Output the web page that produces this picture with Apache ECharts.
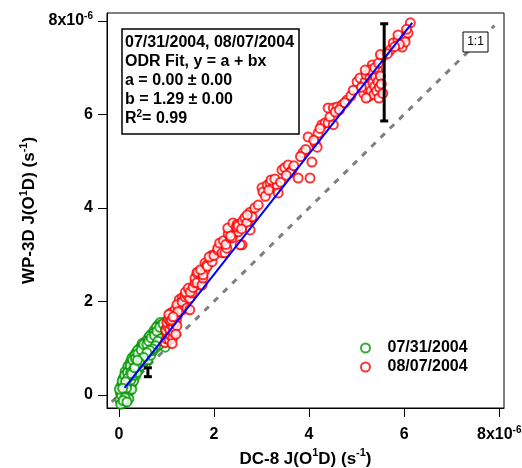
<!DOCTYPE html>
<html><head><meta charset="utf-8">
<script src="https://cdn.jsdelivr.net/npm/echarts@6/dist/echarts.min.js"></script>
<style>html,body{margin:0;padding:0;background:#fff}#c{width:522px;height:468px}</style>
</head><body><div id="c"></div>
<script>
// values in units of 1e-6 s^-1
const tickValues = [0, 2, 4, 6, 8];
const green0731 = [
[0.05,-0.15],[0.08,-0.05],[0.10,0.02],[0.12,-0.10],[0.15,0.05],[0.06,0.10],[0.10,0.15],[0.14,0.20],[0.18,0.12],[0.20,0.25],
[0.08,0.22],[0.12,0.30],[0.16,0.35],[0.22,0.30],[0.25,0.20],[0.20,0.40],[0.15,0.45],[0.24,0.45],[0.28,0.38],[0.30,0.50],
[0.18,0.55],[0.22,0.60],[0.26,0.58],[0.30,0.65],[0.34,0.60],[0.28,0.70],[0.35,0.72],[0.38,0.68],[0.32,0.78],[0.40,0.80],
[0.42,0.75],[0.45,0.85],[0.38,0.88],[0.48,0.90],[0.50,0.82],[0.44,0.95],[0.52,0.95],[0.55,0.90],[0.50,1.00],[0.58,1.00],
[0.60,0.95],[0.56,1.05],[0.62,1.05],[0.65,1.00],[0.60,1.12],[0.68,1.10],[0.70,1.05],[0.66,1.18],[0.72,1.15],[0.74,1.20],
[0.70,1.25],[0.78,1.22],[0.76,1.30],[0.80,1.28],[0.82,1.35],[0.78,1.40],[0.85,1.40],[0.88,1.45],[0.84,1.50],[0.90,1.52],
[0.92,1.48],[0.95,1.55],[0.88,1.30],[0.90,1.22],[0.95,1.20],[0.98,1.15],[1.00,1.30],[0.96,1.40],[1.02,1.45],[0.93,1.10],
[0.86,1.15],[0.80,1.10],[0.74,1.00],[0.66,0.92],[0.60,0.85],[0.55,0.78],[0.47,0.72],[0.40,0.62],[0.33,0.50],[0.26,0.40],
[0.20,0.30],[0.12,0.05],[0.06,-0.05],[0.03,0.05],[0.10,-0.18],[0.14,-0.12],[0.18,0.00],[0.22,0.08],[0.28,0.25],[0.35,0.40],
[0.42,0.55],[0.50,0.65],[0.58,0.80],[0.04,0.18],[0.09,0.35],[0.13,0.50],[0.19,0.62],[0.24,0.70],[0.30,0.82],[0.36,0.90],
[0.42,0.98],[0.48,1.05],[0.54,1.12],[0.62,1.22],[0.68,1.30],[0.74,1.38],[0.82,1.48],[0.87,1.55],[0.97,1.02],[1.03,1.20],
[0.02,-0.10],[0.07,0.05],[0.11,0.12],[0.16,-0.02],[0.19,0.08],[0.23,0.16],[0.27,0.12],[0.31,0.30],[0.17,0.24],[0.09,0.28],
[0.14,0.38],[0.21,0.48],[0.26,0.52],[0.32,0.44],[0.37,0.55],[0.41,0.70],[0.33,0.66],[0.27,0.78],[0.36,0.82],[0.43,0.88],
[0.46,0.78],[0.51,0.88],[0.53,1.02],[0.57,0.95],[0.63,0.98],[0.64,1.12],[0.69,1.02],[0.71,1.18],[0.75,1.12],[0.77,1.25],
[0.81,1.20],[0.83,1.30],[0.87,1.36],[0.91,1.42],[0.94,1.35],[0.99,1.48],[0.89,1.50],[0.79,1.45],[0.73,1.32],[0.64,1.25],
[0.57,1.15],[0.49,1.10],[0.45,1.00],[0.39,0.95],[0.34,0.85],[0.29,0.60],[0.23,0.52],[0.17,0.42],[0.11,0.25],[0.05,0.00],
[0.16,0.15],[0.25,0.32],[0.31,0.42],[0.38,0.48],[0.46,0.62],[0.53,0.72],[0.61,0.75],[0.67,0.85],[0.72,0.95],[0.79,1.02],
[0.85,1.08],[0.92,1.28],[0.97,1.25],[1.01,1.38],[0.84,1.24],[0.76,1.08],[0.69,1.15],[0.56,0.85],[0.21,-0.08],[0.13,-0.06],
[0.04,-0.20],[0.09,-0.12],[0.17,-0.15],[0.01,0.12],[0.07,0.30],[0.12,0.42],[0.18,0.48],[0.24,0.62],[0.29,0.74],[0.35,0.78],
[0.40,0.88],[0.47,0.96],[0.52,1.08],[0.59,1.08],[0.63,1.15],[0.68,1.22],[0.75,1.27],[0.80,1.36],[0.86,1.45],[0.93,1.52],
[0.98,1.40],[1.00,1.22],[0.94,1.15],[0.88,1.20],[0.82,1.15],[0.77,1.05],[0.71,0.98],[0.65,0.95],[0.59,0.90],[0.52,0.80],
[0.44,0.68],[0.37,0.62],[0.31,0.55],[0.25,0.48],[0.19,0.36],[0.14,0.28],[0.08,0.14],[0.27,0.45],[0.33,0.58],[0.39,0.74]
];
const red0807 = [
[0.97,1.12],[1.00,1.20],[1.02,1.30],[0.99,1.38],[1.03,1.46],[1.01,1.55],[1.04,1.62],[1.06,1.18],[1.08,1.28],[1.07,1.40],
[1.10,1.50],[1.08,1.58],[1.11,1.68],[1.09,1.75],[1.13,1.22],[1.15,1.34],[1.14,1.45],[1.17,1.55],[1.16,1.64],[1.19,1.72],
[1.18,1.82],[1.21,1.60],[1.23,1.70],[1.22,1.48],[1.26,1.78],[1.25,1.90],[1.28,1.86],[1.30,1.98],[1.27,2.04],[1.33,2.08],
[1.36,2.02],[1.12,1.10],[1.20,1.30],[1.05,1.72],[1.11,1.60],[1.18,1.67],[1.22,1.93],[1.33,1.82],[1.33,1.99],[1.39,2.10],
[1.43,2.14],[1.43,1.86],[1.49,1.82],[1.49,2.07],[1.54,2.18],[1.24,1.78],[1.14,1.67],[1.40,2.20],[1.46,2.28],[1.50,2.20],
[1.56,2.30],[1.60,2.40],[1.64,2.46],[1.71,2.35],[1.60,2.50],[1.64,2.40],[1.75,2.35],[1.77,2.50],[1.64,2.61],[1.71,2.63],
[1.81,2.67],[1.66,2.63],[1.77,2.57],[1.72,2.68],[1.81,2.82],[1.85,2.78],[1.86,2.75],[1.96,2.85],[1.96,2.99],[1.90,2.95],
[2.00,2.98],[2.08,3.10],[2.13,3.17],[2.08,3.14],[2.17,3.04],[2.23,3.04],[2.27,3.14],[2.12,3.25],[2.20,3.30],[2.25,3.22],
[2.34,3.36],[2.40,3.42],[2.38,3.36],[2.30,3.45],[2.29,3.57],[2.40,3.68],[2.48,3.64],[2.51,3.49],[2.61,3.68],[2.72,3.70],
[2.59,3.21],[2.48,3.59],[2.51,3.62],[2.55,3.21],[2.60,3.72],[2.65,3.79],[2.69,3.68],[2.76,3.53],[2.76,3.91],[2.80,3.81],
[2.86,4.00],[2.93,4.06],[2.70,3.85],[2.58,3.55],[2.35,3.40],[3.01,4.43],[3.03,4.34],[3.12,4.49],[3.18,4.53],[3.24,4.45],
[3.33,4.49],[3.35,4.32],[3.08,4.25],[3.15,4.38],[3.20,4.60],[3.28,4.62],[3.40,4.55],[3.43,4.81],[3.49,4.86],[3.56,4.92],
[3.64,4.81],[3.60,4.75],[3.52,4.70],[3.68,4.90],[3.77,4.64],[4.02,4.64],[3.87,5.18],[3.93,5.25],[3.98,5.52],[4.06,4.98],
[4.13,5.39],[4.17,5.30],[4.19,5.60],[4.10,5.45],[4.27,5.78],[4.34,5.82],[4.40,5.82],[4.44,5.95],[4.51,5.78],[4.23,5.70],
[3.82,5.10],[4.40,6.14],[4.51,6.14],[4.59,6.16],[4.69,6.20],[4.80,6.31],[4.55,6.05],[4.64,6.10],[4.75,6.25],[4.88,6.40],
[4.93,6.52],[5.01,6.70],[5.07,6.78],[5.12,6.60],[5.15,6.45],[5.18,6.70],[5.20,6.85],[5.22,6.55],[5.25,6.38],[5.26,6.62],
[5.28,6.78],[5.30,6.50],[5.32,6.90],[5.33,7.06],[5.34,6.68],[5.36,6.42],[5.38,6.60],[5.40,6.80],[5.42,6.50],[5.44,6.95],
[5.45,6.70],[5.47,6.35],[5.48,6.58],[5.50,6.82],[5.52,6.65],[5.54,7.23],[5.55,6.45],[5.20,6.35],[5.10,6.58],[5.28,6.95],
[5.38,7.00],[5.46,7.10],[5.50,7.28],[5.71,7.38],[5.77,7.53],[5.87,7.59],[5.96,7.44],[6.02,7.66],[6.08,7.74],[6.13,7.96],
[6.02,7.55],[5.87,7.70],[5.90,7.50],[5.65,7.30],[5.80,7.45],[6.05,7.82],[5.18,6.95]
];
const fitX = [0.12, 6.17];
const fitY = [0.15, 7.96];
const oneToOne = [-0.15, 7.9];
const errX = [0.61, 5.58];
const errLow = [0.39, 5.86];
const errHigh = [0.58, 7.94];
const annotationLines = ['07/31/2004, 08/07/2004', 'ODR Fit, y = a + bx', 'a = 0.00 \u00b1 0.00', 'b = 1.29 \u00b1 0.00'];
const r2Text = '= 0.99';

const FONT = "'Liberation Sans', Arial, sans-serif";
const chart = echarts.init(document.getElementById('c'), null, {renderer: 'canvas'});

const tickRich = {
  b: {fontSize: 16, fontWeight: 'bold', fontFamily: FONT, color: '#000', lineHeight: 20},
  s: {fontSize: 10, fontWeight: 'bold', fontFamily: FONT, color: '#000', lineHeight: 10, verticalAlign: 'top'}
};
const tickFmt = v => (v === 8 ? '{b|8x10}{s|-6}' : '{b|' + v + '}');
const titleRich = {
  b: {fontSize: 17, fontWeight: 'bold', fontFamily: FONT, color: '#000', lineHeight: 22},
  s: {fontSize: 11, fontWeight: 'bold', fontFamily: FONT, color: '#000', lineHeight: 11, verticalAlign: 'top'}
};

const axisCommon = {
  type: 'value',
  axisLine: {show: true, onZero: false, lineStyle: {color: '#000', width: 1}},
  axisTick: {show: true, inside: false, length: 9, customValues: tickValues, lineStyle: {color: '#000', width: 1}},
  splitLine: {show: false},
  nameLocation: 'middle'
};

const option = {
  animation: false,
  backgroundColor: '#fff',
  grid: {left: 107, top: 13, width: 397, height: 395, show: true, borderColor: '#000', borderWidth: 1,
         containLabel: false, outerBoundsMode: 'none'},
  xAxis: Object.assign({}, axisCommon, {
    min: -0.25, max: 8.1,
    axisLabel: {customValues: tickValues, margin: 17, formatter: tickFmt, rich: tickRich},
    name: '{b|DC-8 J(O}{s|1}{b|D) (s}{s|-1}{b|)}',
    nameGap: 33,
    nameTextStyle: {rich: titleRich}
  }),
  yAxis: Object.assign({}, axisCommon, {
    min: -0.28, max: 8.17,
    axisLabel: {customValues: tickValues, margin: 14, formatter: tickFmt, rich: tickRich},
    name: '{b|WP-3D J(O}{s|1}{b|D) (s}{s|-1}{b|)}',
    nameGap: 63,
    nameRotate: 90,
    nameTextStyle: {rich: titleRich}
  }),
  legend: {
    data: ['07/31/2004', '08/07/2004'],
    orient: 'vertical', left: 355, top: 335,
    itemWidth: 34, itemHeight: 9, itemGap: 3,
    textStyle: {fontSize: 16, fontWeight: 'bold', fontFamily: FONT, color: '#000'}
  },
  graphic: [
    {type: 'rect', shape: {x: 122, y: 29, width: 177, height: 105}, style: {fill: '#fff', stroke: '#000', lineWidth: 1.5}, z: 50},
    {type: 'text', x: 125, y: 33, z: 51, style: {
      text: annotationLines.map(l => '{t|' + l + '}').join('\n') + '\n{t|R}{s|2}{t|' + r2Text + '}',
      rich: {
        t: {fontSize: 16, fontWeight: 'bold', fontFamily: FONT, fill: '#000', lineHeight: 19},
        s: {fontSize: 10, fontWeight: 'bold', fontFamily: FONT, fill: '#000', lineHeight: 10, verticalAlign: 'top'}
      }
    }},
    {type: 'rect', shape: {x: 463, y: 32, width: 25, height: 20}, style: {fill: '#fff', stroke: '#000', lineWidth: 1}, z: 50},
    {type: 'text', x: 475.5, y: 42, z: 51, style: {text: '1:1', fontSize: 12, fontFamily: FONT, fill: '#000', align: 'center', verticalAlign: 'middle'}}
  ],
  series: [
    {type: 'line', name: '1:1', data: oneToOne.map(v => [v, v]), symbol: 'none', silent: true, z: 1,
     lineStyle: {color: '#7f7f7f', width: 3, type: [6, 7], cap: 'butt'}},
    {type: 'scatter', name: '07/31/2004', data: green0731, symbol: 'emptyCircle', symbolSize: 9, z: 2,
     itemStyle: {color: '#009600', borderColor: '#009600', borderWidth: 1}},
    {type: 'scatter', name: '08/07/2004', data: red0807, symbol: 'emptyCircle', symbolSize: 9, z: 3,
     itemStyle: {color: '#ff0000', borderColor: '#ff0000', borderWidth: 1}},
    {type: 'line', name: 'fit', data: fitX.map((x, i) => [x, fitY[i]]), symbol: 'none', silent: true, z: 4,
     lineStyle: {color: '#0000ff', width: 2}},
    {type: 'custom', name: 'err', z: 5, silent: true,
     data: errX.map((x, i) => [x, errLow[i], errHigh[i]]),
     encode: {x: 0, y: [1, 2]},
     renderItem: function (params, api) {
       const x = api.value(0), lo = api.value(1), hi = api.value(2);
       const p1 = api.coord([x, lo]), p2 = api.coord([x, hi]);
       const hw = 4;
       const st = {stroke: '#000', lineWidth: 3};
       return {type: 'group', children: [
         {type: 'line', shape: {x1: p1[0], y1: p1[1], x2: p2[0], y2: p2[1]}, style: st},
         {type: 'line', shape: {x1: p1[0] - hw, y1: p1[1], x2: p1[0] + hw, y2: p1[1]}, style: st},
         {type: 'line', shape: {x1: p2[0] - hw, y1: p2[1], x2: p2[0] + hw, y2: p2[1]}, style: st}
       ]};
     }}
  ]
};
chart.setOption(option);
</script></body></html>
